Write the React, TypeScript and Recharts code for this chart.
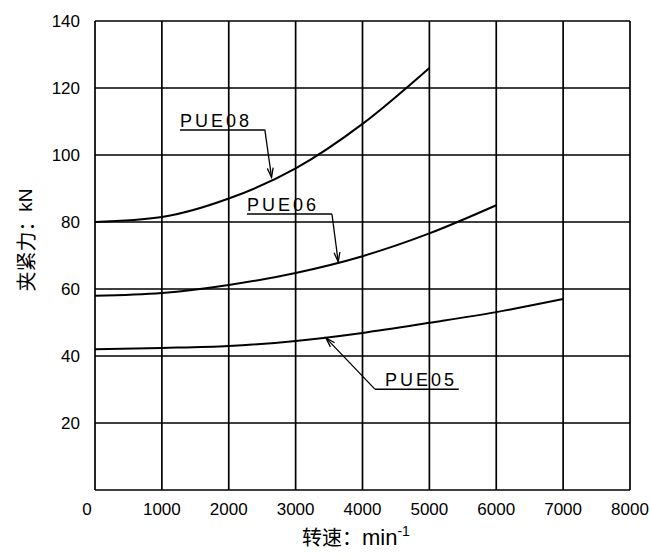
import React from "react";
import {
  LineChart,
  Line,
  XAxis,
  YAxis,
  CartesianGrid,
  ReferenceLine,
} from "recharts";

// speed, min^-1
const speeds = [0, 1000, 2000, 3000, 4000, 5000, 6000, 7000];
// clamping force, kN
const pue08 = [80, 81.5, 87, 96, 109.3, 126];
const pue06 = [58, 58.8, 61.2, 64.8, 69.8, 76.6, 85];
const pue05 = [42, 42.4, 43, 44.5, 46.9, 49.9, 53.1, 57];

const xTicks = [0, 1000, 2000, 3000, 4000, 5000, 6000, 7000, 8000];
const yTicks = [0, 20, 40, 60, 80, 100, 120, 140];

// callouts (data units)
const calloutNames = ["PUE08", "PUE06", "PUE05"];
const calloutTextX = [1270, 2272, 4335];
const underlineY = [107.5, 82.4, 30.1];
const underlineX1 = [1270, 2272, 4185];
const underlineX2 = [2540, 3543, 5440];
const leaderFromX = [2540, 3543, 4185];
const arrowTip = [
  [2640, 93.3],
  [3637, 68.1],
  [3453, 45.4],
];

const toPoints = (vals: number[]) => vals.map((y, i) => ({ x: speeds[i], y }));

const series = [
  { name: "PUE08", data: toPoints(pue08) },
  { name: "PUE06", data: toPoints(pue06) },
  { name: "PUE05", data: toPoints(pue05) },
];

const font = "'Liberation Sans', Arial, sans-serif";
const cjk = "'Noto Sans CJK SC', sans-serif";

const Underline = (p: any) => (
  <line x1={p.x1} y1={p.y1} x2={p.x2} y2={p.y2} stroke="#000" strokeWidth={1.5} />
);

const Arrow = (p: any) => {
  const { x1, y1, x2, y2 } = p;
  const a = Math.atan2(y2 - y1, x2 - x1);
  const len = 10;
  const spread = 0.3;
  const ax = x2 - len * Math.cos(a - spread);
  const ay = y2 - len * Math.sin(a - spread);
  const bx = x2 - len * Math.cos(a + spread);
  const by = y2 - len * Math.sin(a + spread);
  return (
    <g stroke="#000" strokeWidth={1.3} fill="none">
      <line x1={x1} y1={y1} x2={x2} y2={y2} />
      <polyline points={`${ax},${ay} ${x2},${y2} ${bx},${by}`} />
    </g>
  );
};

const TextMark = (text: string) => (p: any) => (
  <text
    x={p.x1}
    y={p.y1 - 3}
    fontFamily={font}
    fontSize={18}
    letterSpacing={3}
    fill="#000"
  >
    {text}
  </text>
);

const XTick = (p: any) => {
  const v = p.payload.value;
  return (
    <text
      x={p.x + (v === 0 ? -8 : 0)}
      y={p.y}
      dy="0.71em"
      textAnchor="middle"
      fontSize={17}
      fontFamily={font}
      fill="#000"
    >
      {v}
    </text>
  );
};

export default function App() {
  return (
    <div style={{ position: "absolute", left: 0, top: 0, background: "#fff" }}>
      <LineChart
        width={650}
        height={556}
        margin={{ top: 21, right: 20, left: 35, bottom: 36 }}
      >
        <CartesianGrid stroke="#000" strokeWidth={1.7} />
        <XAxis
          type="number"
          dataKey="x"
          domain={[0, 8000]}
          ticks={xTicks}
          interval={0}
          axisLine={false}
          tickLine={false}
          tickMargin={7}
          height={30}
          tick={XTick}
          label={{
            content: (props: any) => {
              const vb = props.viewBox;
              return (
                <text x={302} y={vb.y + 55} fontSize={20} fill="#000" fontFamily={cjk}>
                  <tspan fontFamily={cjk}>转速：</tspan>
                  <tspan fontFamily={font} fontSize={22}>
                    min
                  </tspan>
                  <tspan fontFamily={font} dy={-9} fontSize={14}>
                    -1
                  </tspan>
                </text>
              );
            },
          }}
        />
        <YAxis
          type="number"
          domain={[0, 140]}
          ticks={yTicks}
          interval={0}
          axisLine={false}
          tickLine={false}
          tickMargin={9}
          width={60}
          tickFormatter={(v: number) => (v === 0 ? "" : String(v))}
          tick={{ fill: "#000", fontSize: 17, fontFamily: font }}
          label={{
            content: () => {
              const cx = 25;
              const cy = 240;
              return (
                <text
                  x={cx}
                  y={cy}
                  transform={`rotate(-90 ${cx} ${cy})`}
                  textAnchor="middle"
                  dominantBaseline="central"
                  fontSize={20}
                  fill="#000"
                >
                  <tspan fontFamily={cjk}>夹紧力：</tspan>
                  <tspan fontFamily={font} fontSize={19}>
                    kN
                  </tspan>
                </text>
              );
            },
          }}
        />
        {series.map((s) => (
          <Line
            key={s.name}
            data={s.data}
            dataKey="y"
            type="monotone"
            stroke="#000"
            strokeWidth={2}
            dot={false}
            activeDot={false}
            isAnimationActive={false}
          />
        ))}
        {calloutNames.map((name, i) => (
          <ReferenceLine
            key={`u-${name}`}
            segment={[
              { x: underlineX1[i], y: underlineY[i] },
              { x: underlineX2[i], y: underlineY[i] },
            ]}
            shape={Underline}
          />
        ))}
        {calloutNames.map((name, i) => (
          <ReferenceLine
            key={`t-${name}`}
            segment={[
              { x: calloutTextX[i], y: underlineY[i] },
              { x: calloutTextX[i] + 100, y: underlineY[i] },
            ]}
            shape={TextMark(name)}
          />
        ))}
        {calloutNames.map((name, i) => (
          <ReferenceLine
            key={`a-${name}`}
            segment={[
              { x: leaderFromX[i], y: underlineY[i] },
              { x: arrowTip[i][0], y: arrowTip[i][1] },
            ]}
            shape={Arrow}
          />
        ))}
      </LineChart>
    </div>
  );
}
